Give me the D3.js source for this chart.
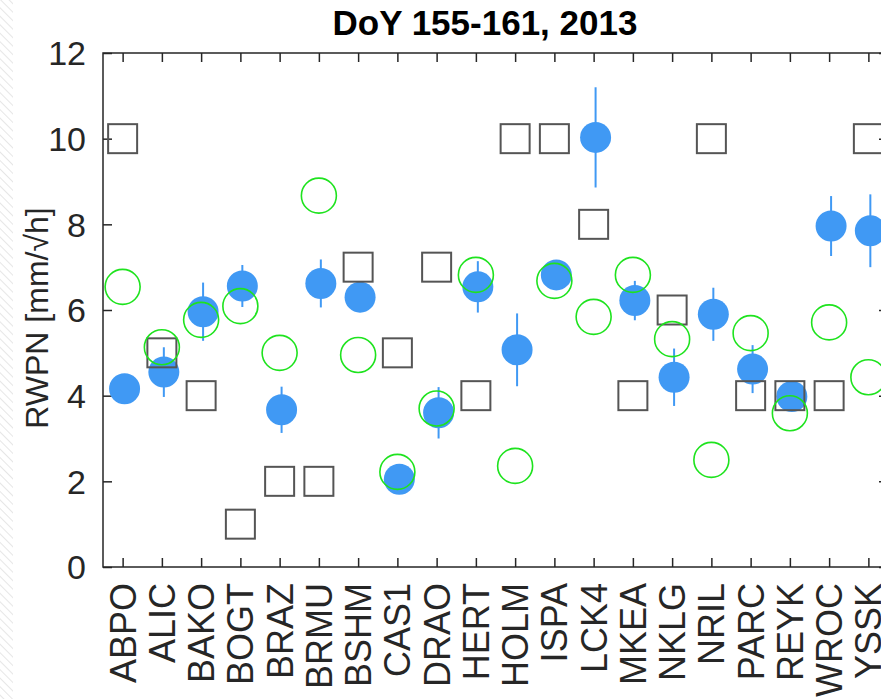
<!DOCTYPE html>
<html lang="en">
<head>
    <meta charset="UTF-8">
    <title>DoY 155-161, 2013</title>
    <script src="https://d3js.org/d3.v7.min.js"></script>
    <style>
        html, body {
            margin: 0;
            padding: 0;
            background: #ffffff;
        }

        svg {
            display: block;
            font-family: "Liberation Sans", Arial, Helvetica, sans-serif;
        }

        .axis-line {
            fill: none;
            stroke: #262626;
            stroke-width: 1.5px;
        }

        .tick-label {
            fill: #262626;
        }
    </style>
</head>
<body>
    <svg id="chart"></svg>

    <script>
        // station codes (x categories)
        var stations = ["ABPO", "ALIC", "BAKO", "BOGT", "BRAZ", "BRMU", "BSHM", "CAS1", "DRAO", "HERT",
                        "HOLM", "ISPA", "LCK4", "MKEA", "NKLG", "NRIL", "PARC", "REYK", "WROC", "YSSK"];

        // filled blue dots + their error half-widths
        var blueVals = [4.16, 4.55, 5.96, 6.56, 3.67, 6.62, 6.30, 2.05, 3.60, 6.54,
                        5.07, 6.82, 10.03, 6.22, 4.43, 5.90, 4.62, 3.98, 7.96, 7.85];
        var blueErr  = [0.30, 0.58, 0.68, 0.49, 0.54, 0.56, 0.30, 0.25, 0.60, 0.60,
                        0.85, 0.30, 1.17, 0.46, 0.67, 0.62, 0.56, 0.30, 0.70, 0.85];

        // open green circles
        var greenVals = [6.54, 5.13, 5.77, 6.09, 5.00, 8.67, 4.95, 2.22, 3.70, 6.82,
                         2.36, 6.68, 5.84, 6.82, 5.32, 2.50, 5.46, 3.59, 5.71, 4.43];

        // open grey squares
        var squareVals = [10, 5, 4, 1, 2, 2, 7, 5, 7, 4,
                          10, 10, 8, 4, 6, 10, 4, 4, 4, 10];

        var yTicks = [0, 2, 4, 6, 8, 10, 12];

        var W = 881, H = 699;
        var plot = {left: 103, top: 53, right: 888, bottom: 567};

        var svg = d3.select("#chart")
            .attr("width", W)
            .attr("height", H);

        // faint hatched strip on the far left edge of the picture
        var defs = svg.append("defs");
        var pat = defs.append("pattern")
            .attr("id", "hatch")
            .attr("width", 6)
            .attr("height", 6)
            .attr("patternUnits", "userSpaceOnUse")
            .attr("patternTransform", "rotate(-45)");
        pat.append("line")
            .attr("x1", 0).attr("y1", 0).attr("x2", 0).attr("y2", 6)
            .attr("stroke", "#e6e6e6")
            .attr("stroke-width", 2);
        svg.append("rect")
            .attr("x", 0).attr("y", 0)
            .attr("width", 13).attr("height", H)
            .attr("fill", "url(#hatch)");

        var x = d3.scaleLinear().domain([0.5, stations.length + 0.5]).range([plot.left, plot.right]);
        var y = d3.scaleLinear().domain([0, 12]).range([plot.bottom, plot.top]);

        var blueShift = 0.05;   // dots sit a touch right of the tick

        var rows = stations.map(function(s, i) {
            return {
                name: s,
                pos: i + 1,
                blue: blueVals[i],
                err: blueErr[i],
                green: greenVals[i],
                square: squareVals[i]
            };
        });

        // axes box
        var tickLen = 9;
        var xAxisB = d3.axisBottom(x).tickValues(d3.range(1, stations.length + 1)).tickSize(-tickLen).tickFormat("");
        var xAxisT = d3.axisTop(x).tickValues(d3.range(1, stations.length + 1)).tickSize(-tickLen).tickFormat("");
        var yAxisL = d3.axisLeft(y).tickValues(yTicks).tickSize(-tickLen).tickFormat("");
        var yAxisR = d3.axisRight(y).tickValues(yTicks).tickSize(-tickLen).tickFormat("");

        function styleAxis(g) {
            g.selectAll("path").remove();
            g.selectAll("line").attr("stroke", "#262626").attr("stroke-width", 1.5);
        }

        svg.append("g").attr("transform", "translate(0," + plot.bottom + ")").call(xAxisB).call(styleAxis);
        svg.append("g").attr("transform", "translate(0," + plot.top + ")").call(xAxisT).call(styleAxis);
        svg.append("g").attr("transform", "translate(" + plot.left + ",0)").call(yAxisL).call(styleAxis);
        svg.append("g").attr("transform", "translate(" + plot.right + ",0)").call(yAxisR).call(styleAxis);

        svg.append("rect")
            .attr("class", "axis-line")
            .attr("x", plot.left)
            .attr("y", plot.top)
            .attr("width", plot.right - plot.left)
            .attr("height", plot.bottom - plot.top);

        // y tick labels
        svg.selectAll(".ylab")
            .data(yTicks)
            .enter().append("text")
            .attr("class", "tick-label")
            .attr("x", 86)
            .attr("y", function(d) { return y(d); })
            .attr("dy", "0.36em")
            .attr("text-anchor", "end")
            .attr("font-size", 34)
            .text(function(d) { return d; });

        // x tick labels, rotated
        svg.selectAll(".xlab")
            .data(rows)
            .enter().append("text")
            .attr("class", "tick-label")
            .attr("transform", function(d) { return "translate(" + x(d.pos) + ",583) rotate(-90)"; })
            .attr("dy", "0.36em")
            .attr("text-anchor", "end")
            .attr("font-size", 36)
            .text(function(d) { return d.name; });

        // y axis title
        svg.append("text")
            .attr("class", "tick-label")
            .attr("transform", "translate(36,318) rotate(-90)")
            .attr("dy", "0.36em")
            .attr("text-anchor", "middle")
            .attr("font-size", 32)
            .text("RWPN [mm/\u221Ah]");

        // title
        svg.append("text")
            .attr("x", 485)
            .attr("y", 35)
            .attr("text-anchor", "middle")
            .attr("font-size", 35)
            .attr("font-weight", "bold")
            .attr("fill", "#000")
            .text("DoY 155-161, 2013");

        var blue = "#4099f4";

        // error bars
        svg.selectAll(".err")
            .data(rows)
            .enter().append("line")
            .attr("x1", function(d) { return x(d.pos + blueShift); })
            .attr("x2", function(d) { return x(d.pos + blueShift); })
            .attr("y1", function(d) { return y(d.blue - d.err); })
            .attr("y2", function(d) { return y(d.blue + d.err); })
            .attr("stroke", blue)
            .attr("stroke-width", 2);

        // blue dots
        svg.selectAll(".dot")
            .data(rows)
            .enter().append("circle")
            .attr("cx", function(d) { return x(d.pos + blueShift); })
            .attr("cy", function(d) { return y(d.blue); })
            .attr("r", 15.5)
            .attr("fill", blue);

        // squares
        var half = 14.5;
        svg.selectAll(".sq")
            .data(rows)
            .enter().append("rect")
            .attr("x", function(d) { return x(d.pos) - half; })
            .attr("y", function(d) { return y(d.square) - half; })
            .attr("width", half * 2)
            .attr("height", half * 2)
            .attr("fill", "none")
            .attr("stroke", "#555555")
            .attr("stroke-width", 2);

        // green circles
        svg.selectAll(".ring")
            .data(rows)
            .enter().append("circle")
            .attr("cx", function(d) { return x(d.pos); })
            .attr("cy", function(d) { return y(d.green); })
            .attr("r", 17.5)
            .attr("fill", "none")
            .attr("stroke", "#1ee31e")
            .attr("stroke-width", 1.6);
    </script>
</body>
</html>
